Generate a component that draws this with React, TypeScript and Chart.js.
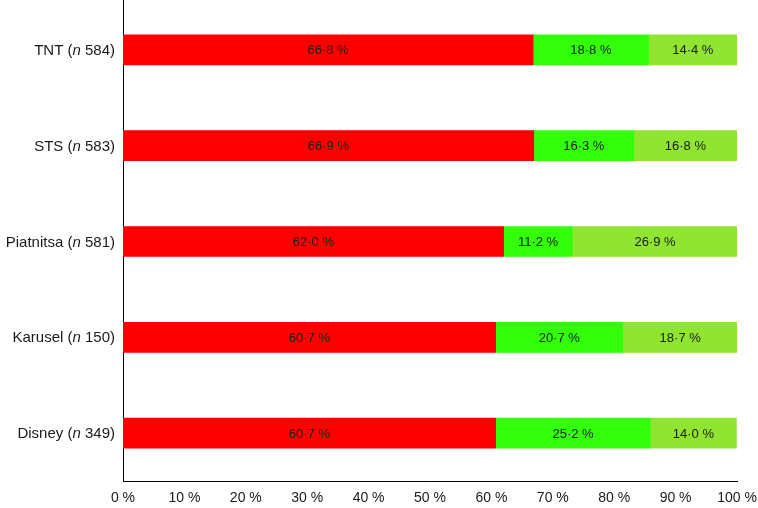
import React, { useEffect, useRef } from "react";
import { Chart, registerables } from "chart.js";
Chart.register(...registerables);

const channels = ["TNT", "STS", "Piatnitsa", "Karusel", "Disney"];
const sampleSizes = [584, 583, 581, 150, 349];
const redValues = [66.8, 66.9, 62.0, 60.7, 60.7];
const greenValues = [18.8, 16.3, 11.2, 20.7, 25.2];
const lightGreenValues = [14.4, 16.8, 26.9, 18.7, 14.0];
const xTicks = [0, 10, 20, 30, 40, 50, 60, 70, 80, 90, 100];

const FONT = "Arial, 'Liberation Sans', sans-serif";

const fmt = (v: number) => v.toFixed(1).replace(".", "\u00B7") + " %";

const labelPlugin = {
  id: "customLabels",
  afterDatasetsDraw(chart: any) {
    const ctx = chart.ctx;
    ctx.save();
    // extend y axis line up to the top edge
    const yScale = chart.scales.y;
    const ax = Math.round(yScale.right - 0.5) + 0.5;
    ctx.strokeStyle = "#000";
    ctx.lineWidth = 1;
    ctx.beginPath();
    ctx.moveTo(ax, 0);
    ctx.lineTo(ax, chart.chartArea.top + 1);
    ctx.stroke();
    // value labels
    ctx.font = `13px ${FONT}`;
    ctx.fillStyle = "#1a1a1a";
    ctx.textAlign = "center";
    ctx.textBaseline = "middle";
    chart.data.datasets.forEach((ds: any, di: number) => {
      const meta = chart.getDatasetMeta(di);
      meta.data.forEach((el: any, i: number) => {
        const x = (el.x + el.base) / 2;
        ctx.fillText(fmt(ds.data[i]), x, el.y + 1);
      });
    });
    // category labels with italic n
    const rightX = chart.chartArea.left - 8;
    ctx.textAlign = "left";
    const size = 15;
    channels.forEach((name, i) => {
      const y = yScale.getPixelForValue(i) + 1;
      const p1 = name + " (";
      const p2 = "n";
      const p3 = " " + sampleSizes[i] + ")";
      ctx.font = `${size}px ${FONT}`;
      const w1 = ctx.measureText(p1).width;
      const w3 = ctx.measureText(p3).width;
      ctx.font = `italic ${size}px ${FONT}`;
      const w2 = ctx.measureText(p2).width;
      let x = rightX - (w1 + w2 + w3);
      ctx.fillStyle = "#1a1a1a";
      ctx.font = `${size}px ${FONT}`;
      ctx.fillText(p1, x, y);
      x += w1;
      ctx.font = `italic ${size}px ${FONT}`;
      ctx.fillText(p2, x, y);
      x += w2;
      ctx.font = `${size}px ${FONT}`;
      ctx.fillText(p3, x, y);
    });
    ctx.restore();
  },
};

export default function App() {
  const ref = useRef<HTMLCanvasElement | null>(null);
  useEffect(() => {
    if (!ref.current) return;
    const chart = new Chart(ref.current, {
      type: "bar",
      data: {
        labels: channels,
        datasets: [
          { data: redValues, backgroundColor: "#FF0000", barThickness: 30 },
          { data: greenValues, backgroundColor: "#33FF0A", barThickness: 30 },
          { data: lightGreenValues, backgroundColor: "#8FE530", barThickness: 30 },
        ],
      },
      options: {
        indexAxis: "y",
        animation: false,
        responsive: false,
        maintainAspectRatio: false,
        layout: { padding: { top: 2, right: 21, left: 0, bottom: 0 } },
        plugins: { legend: { display: false }, tooltip: { enabled: false } },
        scales: {
          x: {
            stacked: true,
            min: 0,
            max: 100,
            afterFit(scale: any) {
              scale.height = 27;
              scale.paddingLeft = 0;
              scale.paddingRight = 0;
            },
            afterBuildTicks(scale: any) {
              scale.ticks = xTicks.map((v) => ({ value: v }));
            },
            grid: { display: false, drawTicks: false },
            border: { display: true, color: "#000", width: 1 },
            ticks: {
              padding: 9,
              color: "#1a1a1a",
              font: { family: FONT, size: 14 },
              maxRotation: 0,
              autoSkip: false,
              callback: (v: any) => v + " %",
            },
          },
          y: {
            stacked: true,
            afterFit(scale: any) {
              scale.width = 123;
              scale.paddingTop = 0;
              scale.paddingBottom = 0;
            },
            grid: { display: false, drawTicks: false },
            border: { display: true, color: "#000", width: 1 },
            ticks: { display: false },
          },
        },
      },
      plugins: [labelPlugin],
    });
    return () => chart.destroy();
  }, []);
  return (
    <div style={{ position: "fixed", left: 0, top: 0, width: 758, height: 508, background: "#fff" }}>
      <canvas ref={ref} width={758} height={508} style={{ width: 758, height: 508 }} />
    </div>
  );
}
